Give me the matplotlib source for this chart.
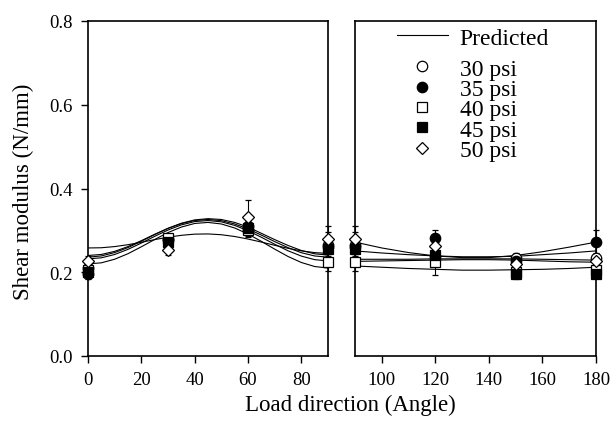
import numpy as np
import matplotlib
matplotlib.use("Agg")
import matplotlib.pyplot as plt
from matplotlib.lines import Line2D

plt.rcParams['font.family'] = ['Liberation Serif', 'DejaVu Serif']

# measured points (angle in degrees, shear modulus in N/mm)
angles = [0, 30, 60, 90, 120, 150, 180]
g30 = [0.210, 0.280, 0.300, 0.265, 0.240, 0.235, 0.235]
g35 = [0.195, 0.278, 0.310, 0.260, 0.282, 0.228, 0.272]
g40 = [0.205, 0.282, 0.302, 0.224, 0.224, 0.200, 0.205]
g45 = [0.200, 0.272, 0.305, 0.255, 0.242, 0.195, 0.196]
g50 = [0.228, 0.252, 0.332, 0.280, 0.263, 0.220, 0.228]
e30 = [0.010, 0.010, 0.015, 0.030, 0.020, 0.010, 0.010]
e35 = [0.010, 0.010, 0.015, 0.020, 0.020, 0.010, 0.030]
e40 = [0.010, 0.010, 0.015, 0.020, 0.030, 0.010, 0.010]
e45 = [0.010, 0.010, 0.015, 0.020, 0.020, 0.010, 0.010]
e50 = [0.010, 0.010, 0.040, 0.030, 0.020, 0.010, 0.010]

# predicted curves
fit_left_ang = [0, 5, 10, 15, 20, 25, 30, 35, 40, 45, 50, 55, 60, 65, 70, 75, 80, 85, 90]
pred_left_a = [0.258, 0.2585, 0.2613, 0.2658, 0.2716, 0.2779, 0.2837, 0.2882, 0.2910, 0.2915,
               0.2896, 0.2854, 0.2793, 0.2721, 0.2644, 0.2572, 0.2511, 0.2469, 0.245]
pred_left_b = [0.240, 0.2425, 0.2499, 0.2613, 0.2754, 0.2906, 0.3047, 0.3161, 0.3236, 0.326,
               0.3232, 0.3153, 0.3033, 0.2888, 0.2732, 0.2587, 0.2467, 0.2389, 0.236]
pred_left_c = [0.232, 0.2345, 0.2424, 0.2547, 0.2697, 0.2858, 0.3008, 0.3131, 0.3210, 0.3235,
               0.3204, 0.3119, 0.2992, 0.2836, 0.2669, 0.2513, 0.2386, 0.2301, 0.227]
pred_left_d = [0.220, 0.2225, 0.2311, 0.2443, 0.2608, 0.2782, 0.2947, 0.3079, 0.3165, 0.319,
               0.3153, 0.3057, 0.2913, 0.2738, 0.2552, 0.2377, 0.2233, 0.2137, 0.210]
pred_left_e = [0.236, 0.239, 0.247, 0.259, 0.274, 0.290, 0.305, 0.317, 0.325, 0.328,
               0.326, 0.319, 0.308, 0.293, 0.278, 0.264, 0.252, 0.244, 0.241]

fit_right_ang = [90, 100, 110, 120, 130, 140, 150, 160, 170, 180]
pred_right_a = [0.272, 0.258, 0.247, 0.239, 0.235, 0.235, 0.240, 0.249, 0.260, 0.272]
pred_right_b = [0.251, 0.246, 0.242, 0.239, 0.237, 0.237, 0.238, 0.242, 0.246, 0.251]
pred_right_c = [0.231, 0.231, 0.231, 0.232, 0.232, 0.232, 0.232, 0.231, 0.230, 0.229]
pred_right_d = [0.226, 0.227, 0.228, 0.229, 0.230, 0.230, 0.229, 0.227, 0.225, 0.224]
pred_right_e = [0.215, 0.212, 0.209, 0.207, 0.205, 0.205, 0.206, 0.207, 0.209, 0.212]

series = [
    ('30 psi', g30, e30, 'o', 'white'),
    ('35 psi', g35, e35, 'o', 'black'),
    ('40 psi', g40, e40, 's', 'white'),
    ('45 psi', g45, e45, 's', 'black'),
    ('50 psi', g50, e50, 'D', 'white'),
]

W, H = 610, 435
fig = plt.figure(figsize=(W / 100, H / 100), dpi=100)
ax1 = fig.add_axes([88 / W, 1 - 357 / H, 240 / W, 335 / H])
ax2 = fig.add_axes([355 / W, 1 - 357 / H, 241 / W, 335 / H])

ang = np.array(angles)
for ax, sel, fit_x, preds in [
    (ax1, ang <= 90, fit_left_ang, [pred_left_a, pred_left_b, pred_left_c, pred_left_d, pred_left_e]),
    (ax2, ang >= 90, fit_right_ang, [pred_right_a, pred_right_b, pred_right_c, pred_right_d, pred_right_e]),
]:
    for p in preds:
        ax.plot(fit_x, p, color='black', lw=0.8, zorder=2)
    for label, g, e, m, fc in series:
        g = np.array(g)
        e = np.array(e)
        ms = 6.5 if m == 'D' else 7.5
        ax.errorbar(ang[sel], g[sel], yerr=e[sel], fmt=m, ms=ms, mfc=fc, mec='black',
                    mew=0.9, ecolor='black', elinewidth=0.8, capsize=2, capthick=0.8,
                    clip_on=False, zorder=3)
    ax.set_ylim(0, 0.8)
    for s in ax.spines.values():
        s.set_linewidth(1.2)
    ax.tick_params(direction='out', length=5, width=1, labelsize=13.5)
    ax.tick_params(axis='x', pad=6)
    ax.tick_params(axis='y', pad=6)

ax1.set_xlim(0, 90)
ax1.set_xticks([0, 20, 40, 60, 80])
ax1.set_yticks([0.0, 0.2, 0.4, 0.6, 0.8])
ax1.set_yticklabels(['0.0', '0.2', '0.4', '0.6', '0.8'])

ax2.set_xlim(90, 180)
ax2.set_xticks([100, 120, 140, 160, 180])
ax2.set_yticks([])

fig.text(23 / W, 1 - 192 / H, 'Shear modulus (N/mm)', rotation=90, ha='center', va='center', fontsize=16.5)
fig.text(350 / W, 1 - 405 / H, 'Load direction (Angle)', ha='center', va='center', fontsize=16.5)

# legend: predicted line on its own, then the pressures
h_pred = [Line2D([], [], color='black', lw=0.8)]
leg1 = ax2.legend(h_pred, ['Predicted'], loc='upper left', bbox_to_anchor=(397 / W, 1 - 28 / H),
                  bbox_transform=fig.transFigure, frameon=False, fontsize=17,
                  handlelength=2.15, handletextpad=0.5, borderpad=0, borderaxespad=0)
ax2.add_artist(leg1)
h_pts = [Line2D([], [], ls='none', marker=m, ms=(6.5 if m == 'D' else 7.5), mfc=fc, mec='black', mew=0.9)
         for label, g, e, m, fc in series]
ax2.legend(h_pts, [s[0] for s in series], loc='upper left', bbox_to_anchor=(408 / W, 1 - 59 / H),
           bbox_transform=fig.transFigure, frameon=False, fontsize=17, labelspacing=-0.05,
           handlelength=1.2, handletextpad=1.0, borderpad=0, borderaxespad=0)

fig.savefig('out.png', dpi=100)
